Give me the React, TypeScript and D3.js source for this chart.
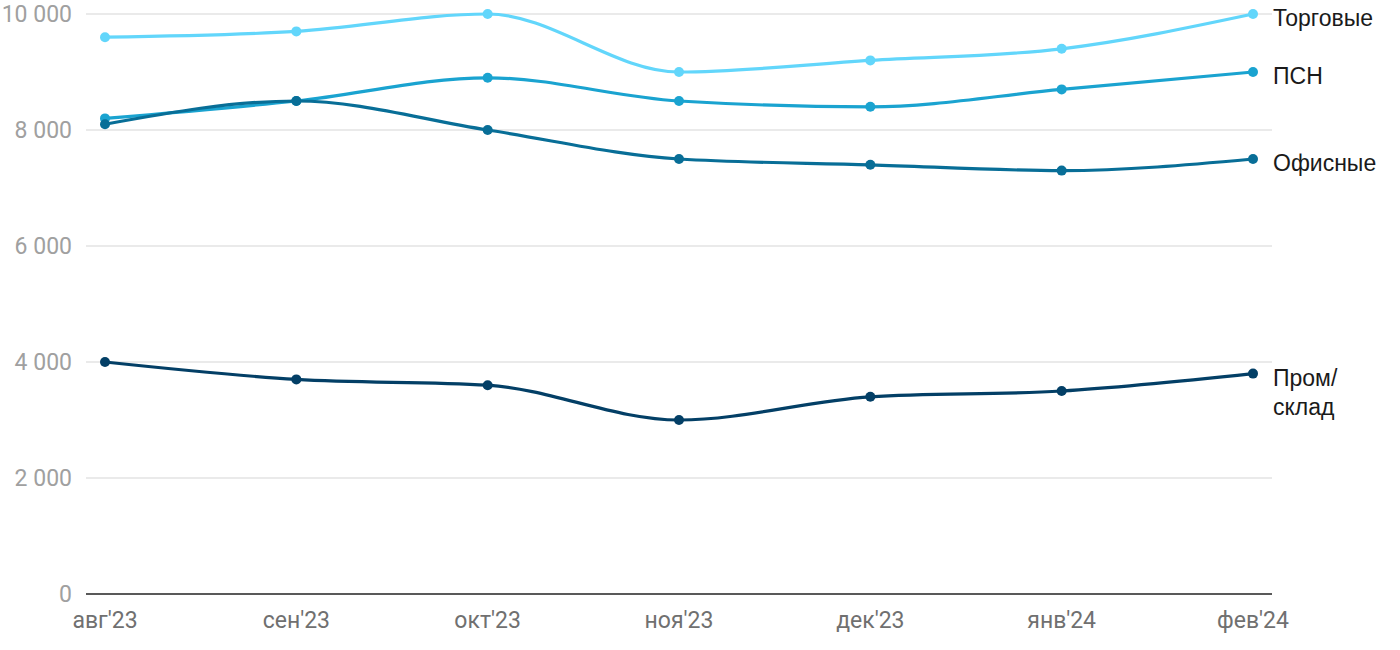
import React from "react";
import * as d3 from "d3";

const categories = ["авг'23", "сен'23", "окт'23", "ноя'23", "дек'23", "янв'24", "фев'24"];
const torgovye = [9600, 9700, 10000, 9000, 9200, 9400, 10000];
const psn = [8200, 8500, 8900, 8500, 8400, 8700, 9000];
const ofisnye = [8100, 8500, 8000, 7500, 7400, 7300, 7500];
const prom = [4000, 3700, 3600, 3000, 3400, 3500, 3800];
const yTicks = [0, 2000, 4000, 6000, 8000, 10000];

const series = [
  { name: ["Торговые"], values: torgovye, color: "#62d6fb" },
  { name: ["ПСН"], values: psn, color: "#1aa3d0" },
  { name: ["Офисные"], values: ofisnye, color: "#086e97" },
  { name: ["Пром/", "склад"], values: prom, color: "#033f66" },
];

export default function App() {
  const W = 1400, H = 650;
  const x = d3.scalePoint<string>().domain(categories).range([105, 1253]);
  const y = d3.scaleLinear().domain([0, 10000]).range([594, 14]);
  const line = d3
    .line<number>()
    .x((_, i) => x(categories[i]) as number)
    .y((d) => y(d))
    .curve(d3.curveMonotoneX);
  const fmt = (v: number) => d3.format(",")(v).replace(/,/g, " ");
  const font = "Roboto, 'Liberation Sans', Arial, sans-serif";
  const labelFont = "'Liberation Sans', Arial, sans-serif";

  return (
    <svg width={W} height={H} style={{ position: "absolute", left: 0, top: 0 }} fontFamily={font}>
      {yTicks.map((t) => (
        <g key={t}>
          {t > 0 && <line x1={86} x2={1272} y1={y(t)} y2={y(t)} stroke="#e3e3e3" strokeWidth={1.5} />}
          <text x={72} y={y(t)} dy="0.36em" textAnchor="end" fontSize={23} fill="#a0a0a0">
            {fmt(t)}
          </text>
        </g>
      ))}
      <line x1={86} x2={1272} y1={y(0)} y2={y(0)} stroke="#222" strokeWidth={1.5} />
      {categories.map((c) => (
        <text key={c} x={x(c)} y={628} textAnchor="middle" fontSize={23} fill="#707070">
          {c}
        </text>
      ))}
      {series.map((s) => (
        <g key={s.name.join("")}>
          <path d={line(s.values) || ""} fill="none" stroke={s.color} strokeWidth={3.2} />
          {s.values.map((v, i) => (
            <circle key={i} cx={x(categories[i])} cy={y(v)} r={5} fill={s.color} />
          ))}
          <text
            x={1273}
            y={y(s.values[s.values.length - 1]) + 4}
            fontSize={23}
            fill="#1a1a1a"
            fontFamily={labelFont}
          >
            {s.name.map((n, j) => (
              <tspan key={j} x={1273} dy={j === 0 ? "0.35em" : 29}>
                {n}
              </tspan>
            ))}
          </text>
        </g>
      ))}
    </svg>
  );
}
